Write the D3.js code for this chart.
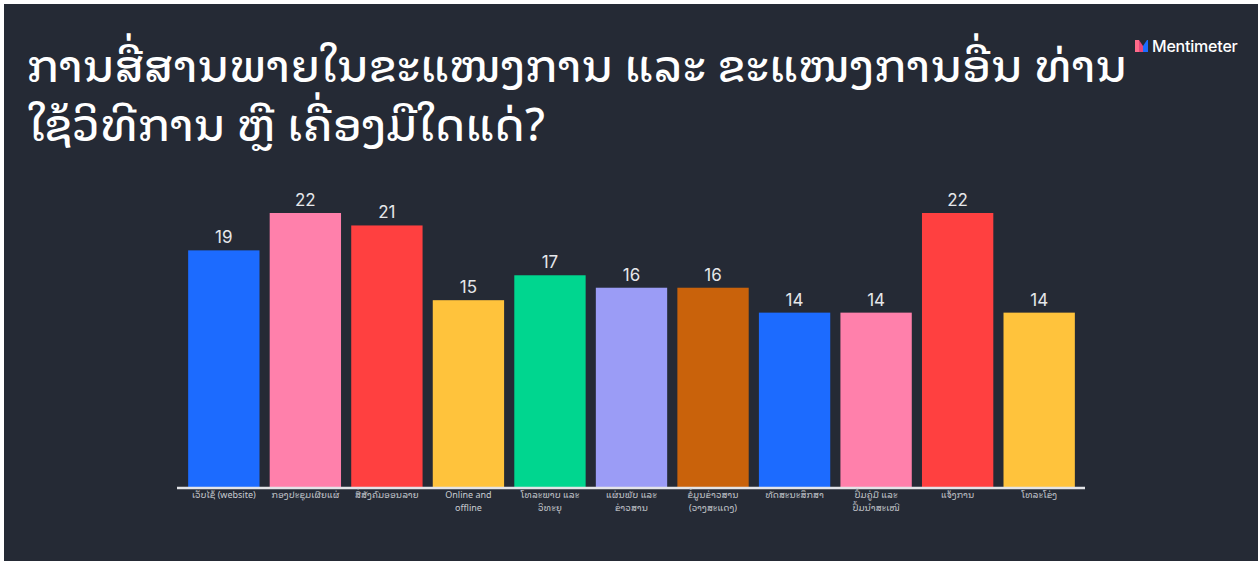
<!DOCTYPE html>
<html><head><meta charset="utf-8">
<script src="https://cdn.jsdelivr.net/npm/d3@7"></script>
<style>
html,body{margin:0;padding:0;background:#fff;}
svg{display:block;}
</style></head>
<body>
<script>
const categories = [
  ["ເວັບໄຊ້ (website)"],
  ["ກອງປະຊຸມເຜີຍແຜ່"],
  ["ສື່ສັງຄົມອອນລາຍ"],
  ["Online and", "offline"],
  ["ໂທລະພາບ ແລະ", "ວິທະຍຸ"],
  ["ແຜ່ນພັບ ແລະ", "ຂ່າວສານ"],
  ["ຂໍ້ມູນຂ່າວສານ", "(ວາງສະແດງ)"],
  ["ທັດສະນະສຶກສາ"],
  ["ປຶ້ມຄູ່ມື ແລະ", "ປຶ້ມນຳສະເໜີ"],
  ["ແຈ້ງການ"],
  ["ໂທລະໂຂ່ງ"]
];
const values = [19, 22, 21, 15, 17, 16, 16, 14, 14, 22, 14];
const colors = ["#1c6bff","#ff80ab","#ff4040","#ffc33c","#00d68f","#9b9cf6","#c9620b","#1c6bff","#ff80ab","#ff4040","#ffc33c"];
const titleLines = ["ການສື່ສານພາຍໃນຂະແໜງການ ແລະ ຂະແໜງການອື່ນ ທ່ານ", "ໃຊ້ວິທີການ ຫຼື ເຄື່ອງມືໃດແດ່?"];

const W = 1258, H = 561;
const svg = d3.select("body").append("svg").attr("width", W).attr("height", H);
svg.append("rect").attr("width", W).attr("height", H).attr("fill", "#fff");
svg.append("rect").attr("x", 4).attr("y", 4).attr("width", W - 4).attr("height", H - 4).attr("fill", "#252a35");

const laoFont = "'Noto Sans Lao Looped','Phetsarath OT','Noto Sans Lao','DejaVu Sans',sans-serif";

// Title
const title = svg.append("text").attr("fill", "#ffffff").attr("font-family", laoFont)
  .attr("font-size", 44.5).attr("font-weight", 500);
titleLines.forEach((t, i) => {
  title.append("tspan").attr("x", 27).attr("y", 82 + i * 59).text(t);
});

// Mentimeter logo
const logo = svg.append("g").attr("transform", "translate(1135,40)");
logo.append("path").attr("d", "M0,0 L4,0 L4,12 L0,12 Z").attr("fill", "#ff6b8a");
logo.append("path").attr("d", "M4,0 L8,6 L8,12 L4,12 Z").attr("fill", "#e8457a");
logo.append("path").attr("d", "M8,6 L12,0 L13,0 L13,12 L8,12 Z").attr("fill", "#1c6bff");
svg.append("text").attr("x", 1152).attr("y", 52).attr("fill", "#ffffff")
  .attr("font-family", "Inter, 'Open Sans', sans-serif").attr("font-size", 16).attr("font-weight", 500)
  .attr("letter-spacing", -0.2).text("Mentimeter");

// Chart
const x = d3.scaleBand().domain(d3.range(values.length)).range([180, 1083]).paddingInner(0.125).paddingOuter(0.1);
const y = d3.scaleLinear().domain([0, 22]).range([487, 213]);

svg.append("g").selectAll("rect").data(values).join("rect")
  .attr("x", (d, i) => x(i)).attr("y", d => y(d))
  .attr("width", x.bandwidth()).attr("height", d => y(0) - y(d))
  .attr("fill", (d, i) => colors[i]);

svg.append("g").selectAll("text").data(values).join("text")
  .attr("x", (d, i) => x(i) + x.bandwidth() / 2).attr("y", d => y(d) - 7)
  .attr("text-anchor", "middle").attr("fill", "#e6e7ea")
  .attr("font-family", "Inter, 'Open Sans', sans-serif").attr("font-size", 17)
  .text(d => d);

// Axis
const axis = d3.axisBottom(x).tickSize(0).tickFormat("");
const ag = svg.append("g").attr("transform", "translate(0,488)").call(axis);
ag.select(".domain").attr("stroke", "#e3e4e8").attr("stroke-width", 2.5).attr("d", "M177,0H1085");

const lab = svg.append("g").selectAll("text").data(categories).join("text")
  .attr("text-anchor", "middle").attr("fill", "#c9ccd2")
  .attr("font-family", laoFont).attr("font-size", 9);
lab.each(function(lines, i) {
  const t = d3.select(this);
  lines.forEach((l, j) => {
    t.append("tspan").attr("x", x(i) + x.bandwidth() / 2).attr("y", 498 + j * 12.5).text(l);
  });
});
</script>
</body></html>
